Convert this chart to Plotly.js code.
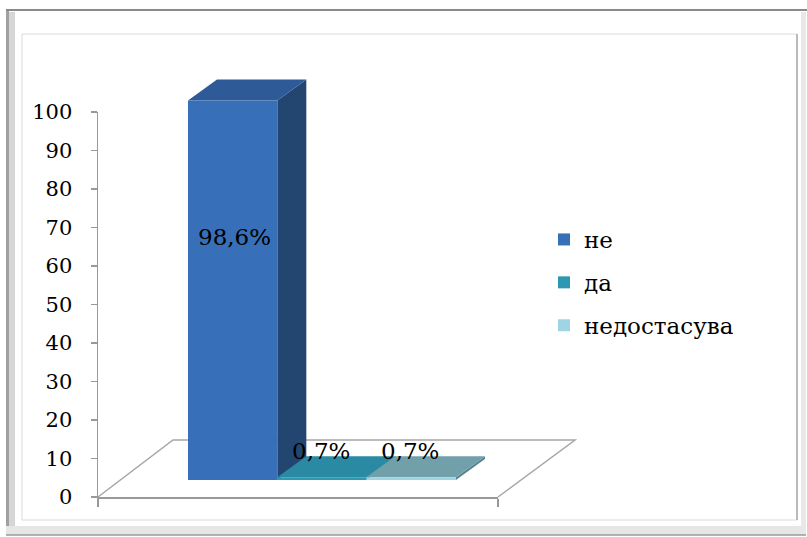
<!DOCTYPE html>
<html>
<head>
<meta charset="utf-8">
<script src="https://cdn.plot.ly/plotly-3.0.1.min.js"></script>
<style>html,body{margin:0;padding:0;background:#fff;}#chart{width:807px;height:537px;}</style>
</head>
<body>
<div id="chart"></div>
<script>
// ---- data ----
const categories = [''];
const seriesNames = ['не', 'да', 'недостасува'];
const seriesValues = [98.6, 0.7, 0.7];
const labelTexts = ['98,6%', '0,7%', '0,7%'];
const tickValues = [0, 10, 20, 30, 40, 50, 60, 70, 80, 90, 100];
const tickLabels = ['0', '10', '20', '30', '40', '50', '60', '70', '80', '90', '100'];

// ---- styles ----
const frontColors = ['#376FB8', '#2E97B2', '#9FD4E2'];
const topColors = ['#2E5B98', '#2A8AA3', '#719FAA'];
const sideColors = ['#22466F', '#1E6578', '#5A8590'];
const FONT = 'DejaVu Serif';
const W = 807, H = 537;

// pixel geometry of the bar plane (x2/y2 subplot spans the whole page)
const pxPerX = 89.33, barLeftPx = 188;
const pxPerY = 3.85, basePx = 480;
const X = px => -0.5 + (px - barLeftPx) / pxPerX;
const Y = py => (basePx - py) / pxPerY;
const dX = 29 / pxPerX, dY = 21 / pxPerY;   // 3D depth offset
const PX = px => px / W, PY = py => 1 - py / H;

const traces = [];
// dummy trace so the visible axis subplot exists
traces.push({type: 'scatter', x: [], y: [], xaxis: 'x', yaxis: 'y', showlegend: false, hoverinfo: 'skip'});
seriesNames.forEach((name, i) => {
  traces.push({
    type: 'bar', name: name, x: [i], y: [seriesValues[i]], width: 1,
    xaxis: 'x2', yaxis: 'y2',
    marker: {color: frontColors[i], line: {width: 0}},
    legendgroup: 'g' + i, hoverinfo: 'skip'
  });
});

const shapes = [];
// frame
shapes.push({type: 'rect', xref: 'paper', yref: 'paper', x0: PX(6), x1: PX(806), y0: PY(534), y1: PY(10), fillcolor: '#ffffff', line: {width: 0}, layer: 'below'});
shapes.push({type: 'rect', xref: 'paper', yref: 'paper', x0: PX(6), x1: PX(9), y0: PY(534), y1: PY(10), fillcolor: '#a0a0a0', line: {width: 0}, layer: 'below'});
shapes.push({type: 'rect', xref: 'paper', yref: 'paper', x0: PX(9), x1: PX(15), y0: PY(534), y1: PY(12), fillcolor: '#d6d6d6', line: {width: 0}, layer: 'below'});
shapes.push({type: 'rect', xref: 'paper', yref: 'paper', x0: PX(6), x1: PX(806), y0: PY(535), y1: PY(526), fillcolor: '#e6e6e6', line: {width: 0}, layer: 'below'});
shapes.push({type: 'rect', xref: 'paper', yref: 'paper', x0: PX(801), x1: PX(806), y0: PY(534), y1: PY(12), fillcolor: '#e8e8e8', line: {width: 0}, layer: 'below'});
shapes.push({type: 'line', xref: 'paper', yref: 'paper', x0: PX(6), x1: PX(807), y0: PY(10), y1: PY(10), line: {color: '#8a8a8a', width: 2}, layer: 'below'});
shapes.push({type: 'line', xref: 'paper', yref: 'paper', x0: PX(6), x1: PX(806), y0: PY(535), y1: PY(535), line: {color: '#9a9a9a', width: 1.5}, layer: 'below'});
shapes.push({type: 'rect', xref: 'paper', yref: 'paper', x0: PX(22), x1: PX(797), y0: PY(520), y1: PY(34), fillcolor: 'rgba(0,0,0,0)', line: {color: '#dadada', width: 1}, layer: 'below'});
shapes.push({type: 'line', xref: 'paper', yref: 'paper', x0: PX(797), x1: PX(797), y0: PY(520), y1: PY(34), line: {color: '#a8a8a8', width: 1.5}, layer: 'below'});

// floor (back and side edges)
shapes.push({type: 'path', xref: 'x2', yref: 'y2', layer: 'below',
  path: `M ${X(98)},${Y(497)} L ${X(173)},${Y(440)} L ${X(575)},${Y(440)} L ${X(498)},${Y(497)}`,
  line: {color: '#a6a6a6', width: 1.5}, fillcolor: 'rgba(0,0,0,0)'});

// 3D faces built from the values
seriesValues.forEach((v, i) => {
  const l = i - 0.5, r = i + 0.5;
  shapes.push({type: 'path', xref: 'x2', yref: 'y2', layer: 'below',
    path: `M ${r},0 L ${r},${v} L ${r + dX},${v + dY} L ${r + dX},${dY} Z`,
    fillcolor: sideColors[i], line: {width: 0}});
  shapes.push({type: 'path', xref: 'x2', yref: 'y2', layer: 'below',
    path: `M ${l},${v} L ${r},${v} L ${r + dX},${v + dY} L ${l + dX},${v + dY} Z`,
    fillcolor: topColors[i], line: {width: 0}});
});

// data labels
const annotations = seriesValues.map((v, i) => ({
  xref: 'x2', yref: 'y2', x: i + (v > 20 ? 0.02 : -0.01),
  y: v > 20 ? v * 0.64 : v + dY + 1.5,
  text: labelTexts[i], showarrow: false,
  font: {family: FONT, size: 23, color: '#000'}
}));

const layout = {
  width: W, height: H,
  margin: {l: 0, r: 0, t: 0, b: 0},
  paper_bgcolor: '#ffffff', plot_bgcolor: 'rgba(0,0,0,0)',
  showlegend: true, barmode: 'overlay',
  xaxis: {domain: [PX(98), PX(498)], range: [0, 1], tickvals: [0, 1], ticks: 'outside', ticklen: 8,
    tickcolor: '#999', tickwidth: 1.5, showticklabels: false, showline: true, linecolor: '#999', linewidth: 1.5,
    showgrid: false, zeroline: false, anchor: 'y', fixedrange: true},
  yaxis: {domain: [PY(497), PY(112)], range: [0, 100], tickvals: tickValues, ticktext: tickLabels,
    ticks: 'outside', ticklen: 6, tickcolor: '#999', tickwidth: 1.5, showline: true, linecolor: '#999', linewidth: 1.5,
    showgrid: false, zeroline: false, anchor: 'x', ticklabelstandoff: 14,
    tickfont: {family: FONT, size: 21, color: '#000'}, fixedrange: true},
  xaxis2: {domain: [0, 1], range: [X(0), X(W)], visible: false, anchor: 'y2', fixedrange: true},
  yaxis2: {domain: [0, 1], range: [Y(H), Y(0)], visible: false, anchor: 'x2', fixedrange: true},
  legend: {x: PX(544), y: PY(218), xanchor: 'left', yanchor: 'top', traceorder: 'grouped', tracegroupgap: 10,
    font: {family: FONT, size: 23, color: '#000'}, bgcolor: 'rgba(0,0,0,0)', itemwidth: 30},
  shapes: shapes,
  annotations: annotations
};

Plotly.newPlot('chart', traces, layout, {staticPlot: true, displayModeBar: false});
</script>
</body>
</html>
